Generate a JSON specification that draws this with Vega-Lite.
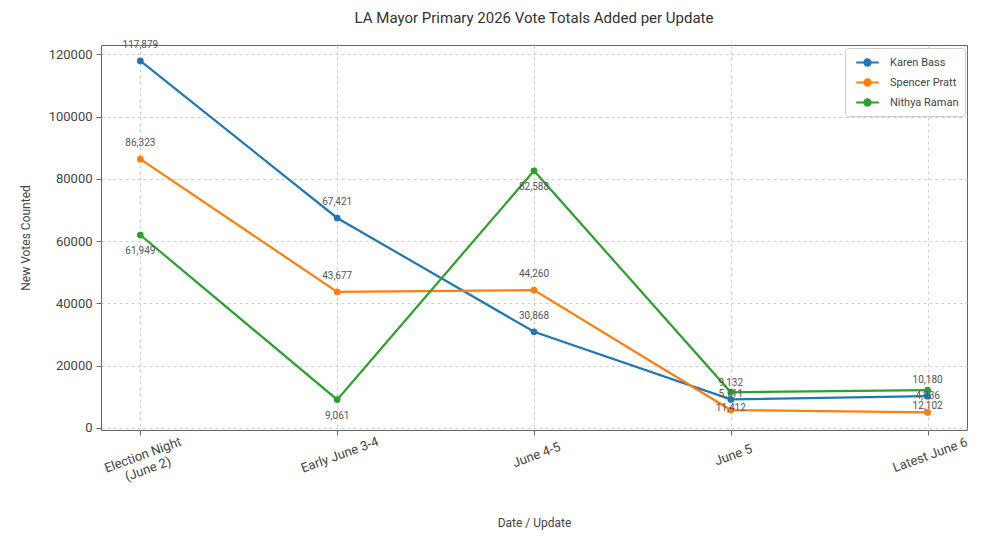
{
  "$schema": "https://vega.github.io/schema/vega-lite/v6.json",
  "autosize": "none",
  "width": 866,
  "height": 385,
  "padding": {"left": 101, "top": 45, "right": 24, "bottom": 110},
  "background": "white",
  "title": {
    "text": "LA Mayor Primary 2026 Vote Totals Added per Update",
    "fontSize": 15,
    "fontWeight": "normal",
    "font": "Roboto",
    "color": "#333",
    "offset": 14
  },
  "config": {
    "font": "Roboto",
    "view": {"stroke": "#666", "strokeWidth": 1}
  },
  "data": {
    "values": [
      {"update": "Election Night (June 2)", "candidate": "Karen Bass", "votes": 117879},
      {"update": "Early June 3-4", "candidate": "Karen Bass", "votes": 67421},
      {"update": "June 4-5", "candidate": "Karen Bass", "votes": 30868},
      {"update": "June 5", "candidate": "Karen Bass", "votes": 9132},
      {"update": "Latest June 6", "candidate": "Karen Bass", "votes": 10180},
      {"update": "Election Night (June 2)", "candidate": "Spencer Pratt", "votes": 86323},
      {"update": "Early June 3-4", "candidate": "Spencer Pratt", "votes": 43677},
      {"update": "June 4-5", "candidate": "Spencer Pratt", "votes": 44260},
      {"update": "June 5", "candidate": "Spencer Pratt", "votes": 5711},
      {"update": "Latest June 6", "candidate": "Spencer Pratt", "votes": 4936},
      {"update": "Election Night (June 2)", "candidate": "Nithya Raman", "votes": 61949},
      {"update": "Early June 3-4", "candidate": "Nithya Raman", "votes": 9061},
      {"update": "June 4-5", "candidate": "Nithya Raman", "votes": 82588},
      {"update": "June 5", "candidate": "Nithya Raman", "votes": 11412},
      {"update": "Latest June 6", "candidate": "Nithya Raman", "votes": 12102}
    ]
  },
  "encoding": {
    "x": {
      "field": "update",
      "type": "nominal",
      "sort": ["Election Night (June 2)", "Early June 3-4", "June 4-5", "June 5", "Latest June 6"],
      "scale": {"type": "point", "padding": 0.2},
      "title": "Date / Update",
      "axis": {
        "grid": true,
        "gridDash": [3, 3],
        "gridColor": "#d0d0d0",
        "domain": false,
        "tickColor": "#666",
        "tickSize": 5,
        "labelAngle": -20,
        "labelAlign": "center",
        "labelBaseline": "top",
        "labelPadding": 14,
        "labelFontSize": 13,
        "labelColor": "#444",
        "labelExpr": "datum.value == 'Election Night (June 2)' ? ['Election Night', '(June 2)'] : datum.label",
        "titleFontSize": 12,
        "titleFontWeight": "normal",
        "titleColor": "#444",
        "titlePadding": 28
      }
    },
    "y": {
      "field": "votes",
      "type": "quantitative",
      "scale": {"domain": [-700, 123000], "nice": false, "zero": false},
      "title": "New Votes Counted",
      "axis": {
        "values": [0, 20000, 40000, 60000, 80000, 100000, 120000],
        "format": "d",
        "grid": true,
        "gridDash": [3, 3],
        "gridColor": "#d0d0d0",
        "domain": false,
        "tickColor": "#666",
        "tickSize": 5,
        "labelFontSize": 13,
        "labelColor": "#444",
        "labelPadding": 4,
        "titleFontSize": 12,
        "titleFontWeight": "normal",
        "titleColor": "#444",
        "titlePadding": 16
      }
    },
    "color": {
      "field": "candidate",
      "type": "nominal",
      "scale": {
        "domain": ["Karen Bass", "Spencer Pratt", "Nithya Raman"],
        "range": ["#1f77b4", "#ff7f0e", "#2ca02c"]
      },
      "legend": {
        "title": null,
        "orient": "none",
        "legendX": 744,
        "legendY": 3,
        "fillColor": "white",
        "strokeColor": "#cccccc",
        "cornerRadius": 3,
        "padding": 6,
        "rowPadding": 4,
        "labelOffset": 14,
        "labelFontSize": 11,
        "labelColor": "#444",
        "symbolType": "M -1.6 0 L 1.6 0 M 0.45 0 A 0.45 0.45 0 1 1 -0.45 0 A 0.45 0.45 0 1 1 0.45 0 Z",
        "symbolSize": 200,
        "symbolStrokeWidth": 2,
        "symbolOffset": 8,
        "encode": {
          "symbols": {
            "update": {
              "fill": {"scale": "color", "field": "value"},
              "stroke": {"scale": "color", "field": "value"},
              "opacity": {"value": 1}
            }
          }
        }
      }
    }
  },
  "layer": [
    {
      "mark": {"type": "line", "strokeWidth": 2.2}
    },
    {
      "mark": {"type": "point", "filled": true, "size": 45, "opacity": 1, "shape": "circle"}
    },
    {
      "transform": [{"filter": "datum.candidate != 'Nithya Raman'"}],
      "mark": {"type": "text", "dy": -16, "fontSize": 10, "color": "#555"},
      "encoding": {
        "text": {"field": "votes", "type": "quantitative", "format": ","},
        "color": {"value": "#555"}
      }
    },
    {
      "transform": [{"filter": "datum.candidate == 'Nithya Raman'"}],
      "mark": {"type": "text", "dy": 16, "fontSize": 10, "color": "#555"},
      "encoding": {
        "text": {"field": "votes", "type": "quantitative", "format": ","},
        "color": {"value": "#555"}
      }
    }
  ]
}
